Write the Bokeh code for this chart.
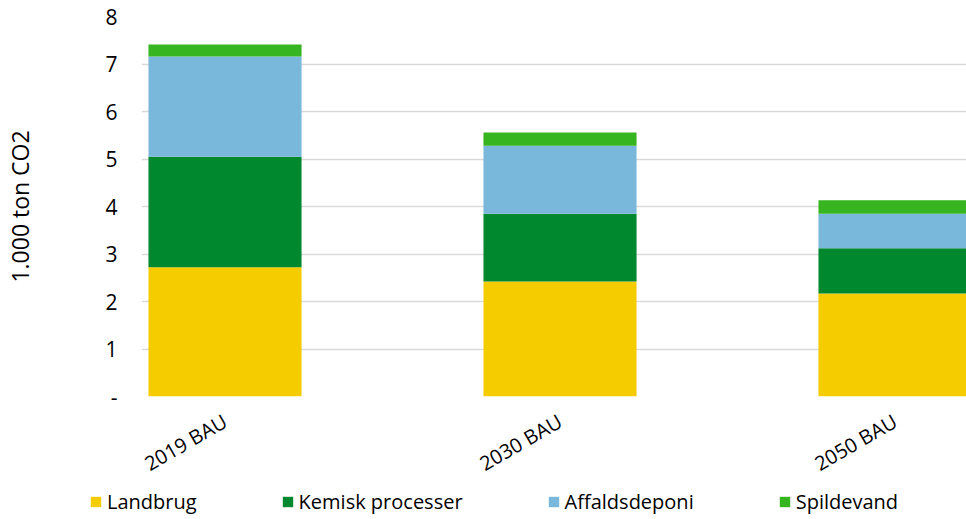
import math
from bokeh.plotting import figure
from bokeh.layouts import column
from bokeh.models import Range1d, FixedTicker, Legend, LegendItem, ColumnDataSource
from bokeh.embed import file_html
from bokeh.resources import INLINE

# ---- data ----
categories = ["2019 BAU", "2030 BAU", "2050 BAU"]
series_names = ["Landbrug", "Kemisk processer", "Affaldsdeponi", "Spildevand"]
landbrug = [2.72, 2.42, 2.17]
kemisk = [2.33, 1.43, 0.95]
affald = [2.11, 1.43, 0.73]
spildevand = [0.25, 0.28, 0.28]
y_ticks = [0, 1, 2, 3, 4, 5, 6, 7, 8]

colors = ["#F4CC00", "#00882F", "#79B7DB", "#37B521"]
FONT = "Open Sans"

keys = ["s0", "s1", "s2", "s3"]
source = ColumnDataSource(dict(
    x=list(range(len(categories))),
    s0=landbrug, s1=kemisk, s2=affald, s3=spildevand,
))

p = figure(width=966, height=491,
           x_range=Range1d(-0.2493, 2.2134), y_range=Range1d(0, 8),
           output_backend="svg", toolbar_location=None,
           min_border_left=141, min_border_right=0,
           min_border_top=16, min_border_bottom=95)
p.outline_line_color = None
p.background_fill_color = "white"
p.border_fill_color = "white"

p.vbar_stack(keys, x="x", width=0.457, color=colors,
             line_color=None, source=source)

# axes
p.xaxis.ticker = FixedTicker(ticks=list(range(len(categories))))
p.xaxis.major_label_overrides = {i: c for i, c in enumerate(categories)}
p.xaxis.major_label_orientation = math.pi / 6
p.xaxis.axis_line_color = None
p.xaxis.major_tick_line_color = None
p.xaxis.major_tick_out = 0
p.xaxis.major_tick_in = 0
p.xaxis.minor_tick_line_color = None
p.xaxis.major_label_standoff = 23
p.xaxis.major_label_text_font = FONT
p.xaxis.major_label_text_font_size = "20px"
p.xaxis.major_label_text_color = "#000000"

p.yaxis.ticker = FixedTicker(ticks=y_ticks)
p.yaxis.major_label_overrides = {0: "-"}
p.yaxis.axis_line_color = None
p.yaxis.major_tick_line_color = None
p.yaxis.major_tick_out = 0
p.yaxis.major_tick_in = 0
p.yaxis.minor_tick_line_color = None
p.yaxis.major_label_standoff = 24
p.yaxis.major_label_text_font = FONT
p.yaxis.major_label_text_font_size = "21px"
p.yaxis.major_label_text_color = "#000000"
p.yaxis.axis_label = "1.000 ton CO2"
p.yaxis.axis_label_text_font = FONT
p.yaxis.axis_label_text_font_size = "23px"
p.yaxis.axis_label_text_font_style = "normal"
p.yaxis.axis_label_text_color = "#000000"
p.yaxis.axis_label_standoff = 66

p.xgrid.grid_line_color = None
p.ygrid.grid_line_color = "#d9d9d9"
p.ygrid.grid_line_width = 1.5

# ---- legend strip (separate figure; swatches come from the same data, kept off-range) ----
lg = figure(width=966, height=28, x_range=Range1d(0, 1), y_range=Range1d(100, 101),
            output_backend="svg", toolbar_location=None, min_border=0)
lg.axis.visible = False
lg.grid.grid_line_color = None
lg.outline_line_color = None
lg.background_fill_color = "white"
lg.border_fill_color = "white"

can_unalign = "frame_align" in lg.properties()
if can_unalign:
    lg.frame_align = False
    p.frame_align = False
    leg_x, leg_spacing = 89, 84
else:
    leg_x, leg_spacing = 0, 60

proxies = lg.vbar_stack(keys, x="x", width=0.1, color=colors,
                        line_color=None, source=source)

legend = Legend(
    items=[LegendItem(label=n, renderers=[r]) for n, r in zip(series_names, proxies)],
    orientation="horizontal", location=(leg_x, 4),
    padding=0, margin=0, spacing=leg_spacing, label_standoff=5,
    glyph_width=13, glyph_height=13, label_height=20,
    label_text_font=FONT, label_text_font_size="20px",
    label_text_color="#000000",
    border_line_color=None, background_fill_alpha=0,
)
lg.add_layout(legend, "center")

layout = column(p, lg, spacing=0)
open("out.html", "w").write(file_html(layout, INLINE))
